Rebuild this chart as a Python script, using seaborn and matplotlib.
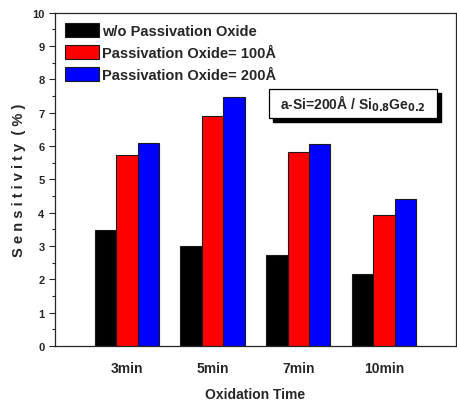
import matplotlib
matplotlib.use('Agg')
import matplotlib.pyplot as plt
from matplotlib.patches import Rectangle
from matplotlib.ticker import MultipleLocator
import seaborn as sns
import pandas as pd

# values
times = ['3min', '5min', '7min', '10min']
series = ['w/o Passivation Oxide', 'Passivation Oxide= 100Å', 'Passivation Oxide= 200Å']
no_oxide = [3.48, 3.00, 2.72, 2.16]
oxide_100 = [5.72, 6.91, 5.81, 3.94]
oxide_200 = [6.08, 7.47, 6.05, 4.41]
colors = ['#000000', '#ff0000', '#0000ff']

df = pd.DataFrame({
    'time': times * 3,
    'series': [s for s in series for _ in times],
    'value': no_oxide + oxide_100 + oxide_200,
})

sns.set_style('ticks')
plt.rcParams['font.family'] = ['Liberation Sans', 'DejaVu Sans']
plt.rcParams['font.weight'] = 'bold'
plt.rcParams['mathtext.default'] = 'bf'

fig = plt.figure(figsize=(4.57, 4.06), dpi=100)
ax = fig.add_axes([0.120, 0.145, 0.878, 0.821])

sns.barplot(data=df, x='time', y='value', hue='series', order=times,
            hue_order=series, palette=colors, width=0.75, ax=ax,
            edgecolor='#1a1a1a', linewidth=0.8, saturation=1)

ax.set_xlim(-0.84, 3.84)
ax.set_ylim(0, 10)
ax.yaxis.set_major_locator(MultipleLocator(1))
ax.yaxis.set_minor_locator(MultipleLocator(0.5))
ax.tick_params(axis='y', which='major', direction='out', length=4, width=0.8,
               labelsize=8)
ax.tick_params(axis='y', which='minor', direction='out', length=2, width=0.8)
ax.tick_params(axis='x', length=0, labelsize=10, pad=11)
for lbl in ax.get_xticklabels() + ax.get_yticklabels():
    lbl.set_fontweight('bold')
for sp in ax.spines.values():
    sp.set_visible(True)
    sp.set_linewidth(0.9)

ax.set_xlabel('Oxidation Time', fontsize=10, fontweight='bold', labelpad=8)
ax.set_ylabel('S e n s i t i v i t y  ( % )', fontsize=10.5, fontweight='bold',
              labelpad=4)

ax.legend(loc='upper left', frameon=False, handlelength=2.3,
          handleheight=1.05, labelspacing=0.5, handletextpad=0.25,
          borderaxespad=0.3, bbox_to_anchor=(0.0, 1.0),
          prop={'weight': 'bold', 'size': 10.5})

# annotation box with drop shadow
ax.add_patch(Rectangle((0.544, 0.673), 0.419, 0.087, transform=ax.transAxes,
                       facecolor='black', edgecolor='black', zorder=4,
                       clip_on=False))
ax.add_patch(Rectangle((0.534, 0.685), 0.419, 0.087, transform=ax.transAxes,
                       facecolor='white', edgecolor='black', linewidth=0.9,
                       zorder=5, clip_on=False))
ax.text(0.743, 0.73, r'a-Si=200Å / Si$_{0.8}$Ge$_{0.2}$', transform=ax.transAxes,
        ha='center', va='center', fontsize=10, fontweight='bold', zorder=6)

fig.savefig('out.png', dpi=100)
